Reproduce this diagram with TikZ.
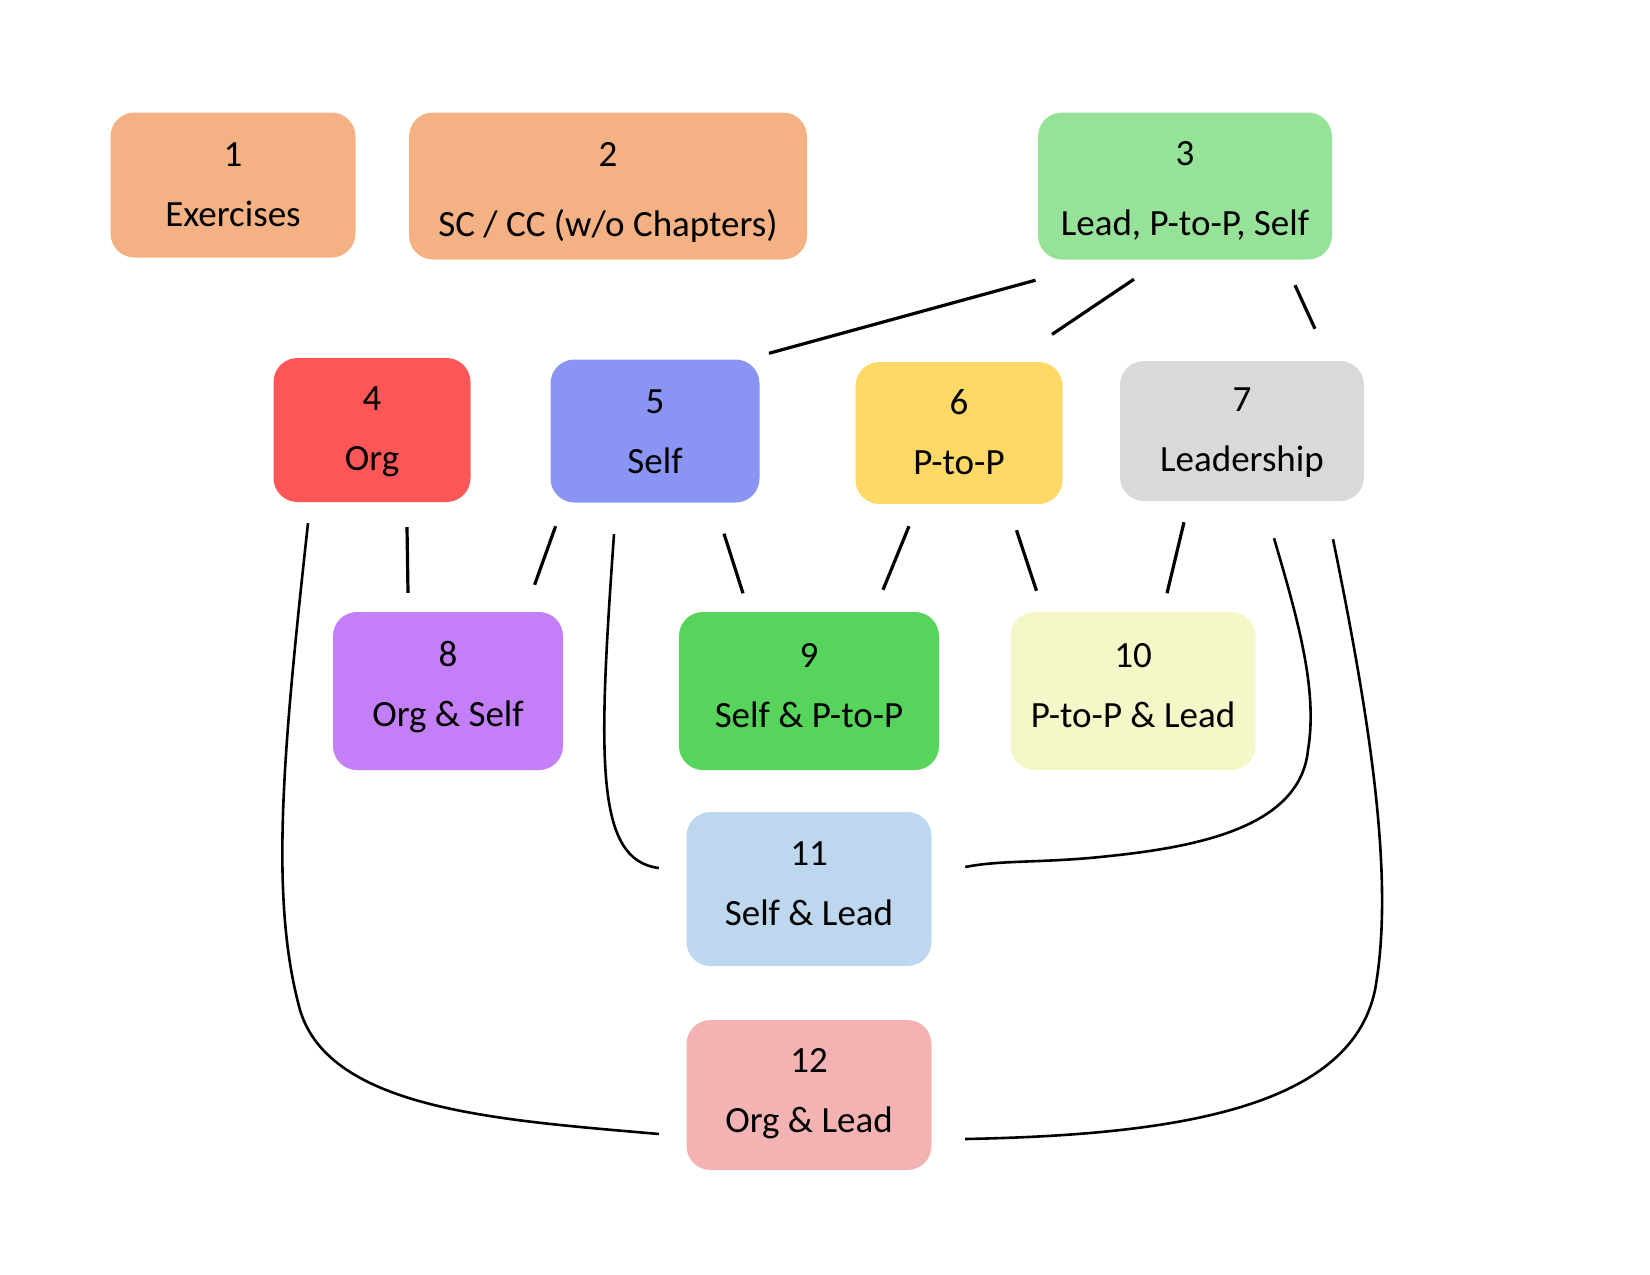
\documentclass[tikz,border=0pt]{standalone}
\usepackage{fontspec}
\setmainfont{Carlito}

\definecolor{peach}{HTML}{F4B183}
\definecolor{mint}{HTML}{96E299}
\definecolor{coral}{HTML}{FF5757}
\definecolor{periwinkle}{HTML}{8A94F3}
\definecolor{butter}{HTML}{FFD966}
\definecolor{silver}{HTML}{D9D9D9}
\definecolor{lilac}{HTML}{C47FF8}
\definecolor{grass}{HTML}{57D45B}
\definecolor{cream}{HTML}{F6F7C8}
\definecolor{sky}{HTML}{BDD7EE}
\definecolor{blush}{HTML}{F4B3B3}

\tikzset{
  topic/.style={rounded corners=24pt, align=center, inner sep=0pt,
    text depth=0pt, font=\fontsize{37}{60}\selectfont},
  link/.style={line width=3.2pt},
  curveline/.style={line width=2.6pt}
}

\begin{document}
\begin{tikzpicture}[x=1pt,y=-1pt]
  \useasboundingbox (0,0) rectangle (1650,1275);

  % top row
  \node[topic, fill=peach, minimum width=245, minimum height=145, text height=83.5pt] (v1) at (233,185) {1\\Exercises};
  \node[topic, fill=peach, minimum width=398, minimum height=147, text height=100pt] (v2) at (608,186) {2\\[10pt]SC / CC (w/o Chapters)};
  \node[topic, fill=mint, minimum width=294, minimum height=147, text height=99pt] (v3) at (1185,186) {3\\[10pt]Lead, P-to-P, Self};
  % level 1
  \node[topic, fill=coral, minimum width=197, minimum height=144, text height=80.5pt] (v4) at (372,430) {4\\Org};
  \node[topic, fill=periwinkle, minimum width=209, minimum height=143, text height=85.5pt] (v5) at (655,431) {5\\Self};
  \node[topic, fill=butter, minimum width=207, minimum height=142, text height=83.5pt] (v6) at (959,433) {6\\P-to-P};
  \node[topic, fill=silver, minimum width=244, minimum height=140, text height=81.5pt] (v7) at (1242,431) {7\\Leadership};
  % level 2
  \node[topic, fill=lilac, minimum width=230, minimum height=158, text height=71pt] (v8) at (448,691) {8\\Org \& Self};
  \node[topic, fill=grass, minimum width=260, minimum height=158, text height=72.5pt] (v9) at (809,691) {9\\Self \& P-to-P};
  \node[topic, fill=cream, minimum width=245, minimum height=158, text height=72.5pt] (v10) at (1133,691) {10\\P-to-P \& Lead};
  % level 3
  \node[topic, fill=sky, minimum width=245, minimum height=154, text height=73pt] (v11) at (809,889) {11\\Self \& Lead};
  \node[topic, fill=blush, minimum width=245, minimum height=150, text height=75.5pt] (v12) at (809,1095) {12\\Org \& Lead};

  % from 3
  \draw[link] ([shift={(-149.5,20.5)}]v3.south) -- ([shift={(114,-6)}]v5.north);
  \draw[link] ([shift={(-51,19.5)}]v3.south) -- ([shift={(93,-27.4)}]v6.north);
  \draw[link] ([shift={(110,25.5)}]v3.south) -- ([shift={(73,-32)}]v7.north);

  % level 1 to level 2
  \draw[link] ([shift={(35,25)}]v4.south) -- ([shift={(-40,-19)}]v8.north);
  \draw[link] ([shift={(-99.4,23.5)}]v5.south) -- ([shift={(86.6,-27)}]v8.north);
  \draw[link] ([shift={(69,31)}]v5.south) -- ([shift={(-66,-18.5)}]v9.north);
  \draw[link] ([shift={(-50,22)}]v6.south) -- ([shift={(74,-22)}]v9.north);
  \draw[link] ([shift={(57.5,26)}]v6.south) -- ([shift={(-96.5,-21)}]v10.north);
  \draw[link] ([shift={(-58,21)}]v7.south) -- ([shift={(34,-18.5)}]v10.north);

  % long curves
  \draw[curveline] ([shift={(-41,31.5)}]v5.south) .. controls (598,760) and (595,860) .. ([shift={(-27.5,-21)}]v11.west);
  \draw[curveline] ([shift={(32,37)}]v7.south) .. controls (1298,620) and (1318,690) .. (1308,750)
    .. controls (1300,830) and (1190,848) .. (1100,857)
    .. controls (1040,863) and (1000,860) .. ([shift={(33.5,-22)}]v11.east);
  \draw[curveline] ([shift={(-64,21)}]v4.south) .. controls (282,760) and (270,900) .. (300,1010)
    .. controls (330,1110) and (500,1120) .. ([shift={(-27.5,39)}]v12.west);
  \draw[curveline] ([shift={(91,38)}]v7.south) .. controls (1370,720) and (1395,880) .. (1375,990)
    .. controls (1350,1110) and (1170,1135) .. ([shift={(33.5,44)}]v12.east);
\end{tikzpicture}
\end{document}
